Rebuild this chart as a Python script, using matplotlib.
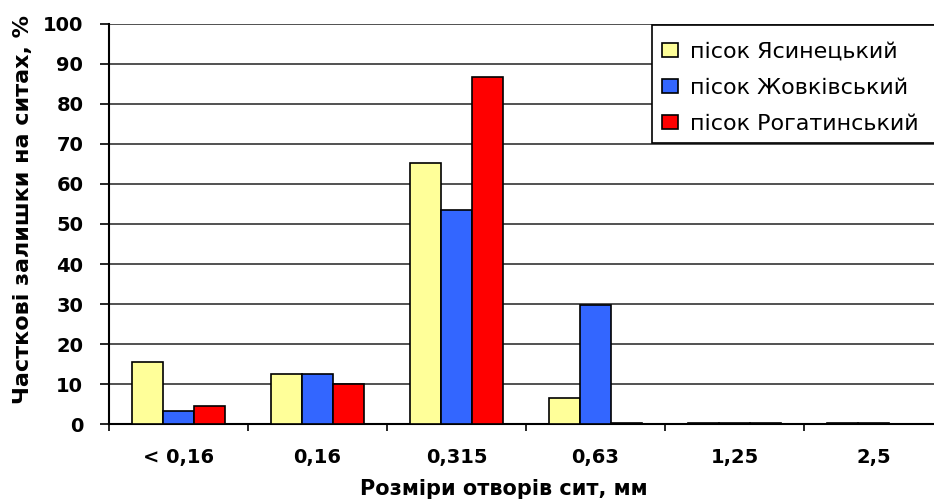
import numpy as np
import matplotlib.pyplot as plt
from matplotlib.patches import Patch, Rectangle

plt.rcParams['font.family'] = ['DejaVu Sans']

# data
categories = ['< 0,16', '0,16', '0,315', '0,63', '1,25', '2,5']
yasynetskyi = [15.6, 12.4, 65.2, 6.5, 0.3, 0.3]
zhovkivskyi = [3.2, 12.4, 53.5, 29.8, 0.3, 0.3]
rohatynskyi = [4.5, 10.1, 86.8, 0.3, 0.3, 0.0]
series_names = ['пісок Ясинецький', 'пісок Жовківський', 'пісок Рогатинський']
colors = ['#FFFF99', '#3366FF', '#FF0000']

fig = plt.figure(figsize=(9.34, 5), dpi=100)
# axes run past the right edge, as in the reference
ax = fig.add_axes([109 / 934, 76 / 500, 834 / 934, 400 / 500])

x = np.arange(len(categories)) + 0.5
w = 0.223
for i, (vals, c) in enumerate(zip([yasynetskyi, zhovkivskyi, rohatynskyi], colors)):
    ax.bar(x + (i - 1) * w, vals, w, color=c, edgecolor='black', linewidth=1.2, zorder=3)

ax.set_xlim(0, len(categories))
ax.set_ylim(0, 100)
ax.set_yticks(np.arange(0, 101, 10))
ax.yaxis.grid(True, color='#333333', linewidth=1.2, zorder=0)
ax.tick_params(axis='y', direction='out', length=6.5, width=1.2, labelsize=14, pad=12)
for lbl in ax.get_yticklabels():
    lbl.set_fontweight('bold')

ax.set_xticks(np.arange(0, len(categories) + 1), minor=True)
ax.set_xticks(x)
ax.set_xticklabels(categories, fontsize=14, fontweight='bold')
ax.tick_params(axis='x', which='major', length=0, pad=17)
ax.tick_params(axis='x', which='minor', direction='out', length=5, width=1.2)

for s in ['top', 'right']:
    ax.spines[s].set_visible(False)
ax.spines['left'].set_linewidth(1.5)
ax.spines['bottom'].set_linewidth(1.5)

fig.text(23 / 934, 1 - 210 / 500, 'Часткові залишки на ситах, %', rotation=90,
         ha='center', va='center', fontsize=16, fontweight='bold')
ax.set_xlabel('Розміри отворів сит, мм', fontsize=15, fontweight='bold', va='top')
ax.xaxis.set_label_coords((504 - 109) / 834, -(479 - 424) / 400)

# legend box runs off the right edge in the reference
fig.patches.append(Rectangle((652 / 934, 1 - 143 / 500), 0.4, 118 / 500,
                             transform=fig.transFigure, facecolor='white',
                             edgecolor='black', linewidth=1.2, zorder=4))
handles = [Patch(facecolor=c, edgecolor='black', linewidth=1.2) for c in colors]
leg = fig.legend(handles, series_names, loc='upper left',
                 bbox_to_anchor=(662 / 934, 1 - 42 / 500),
                 fontsize=16, frameon=False,
                 handlelength=0.7, handleheight=0.6, handletextpad=0.55,
                 labelspacing=0.72, borderpad=0, borderaxespad=0)
leg.set_zorder(5)

fig.savefig('out.png', dpi=100)
